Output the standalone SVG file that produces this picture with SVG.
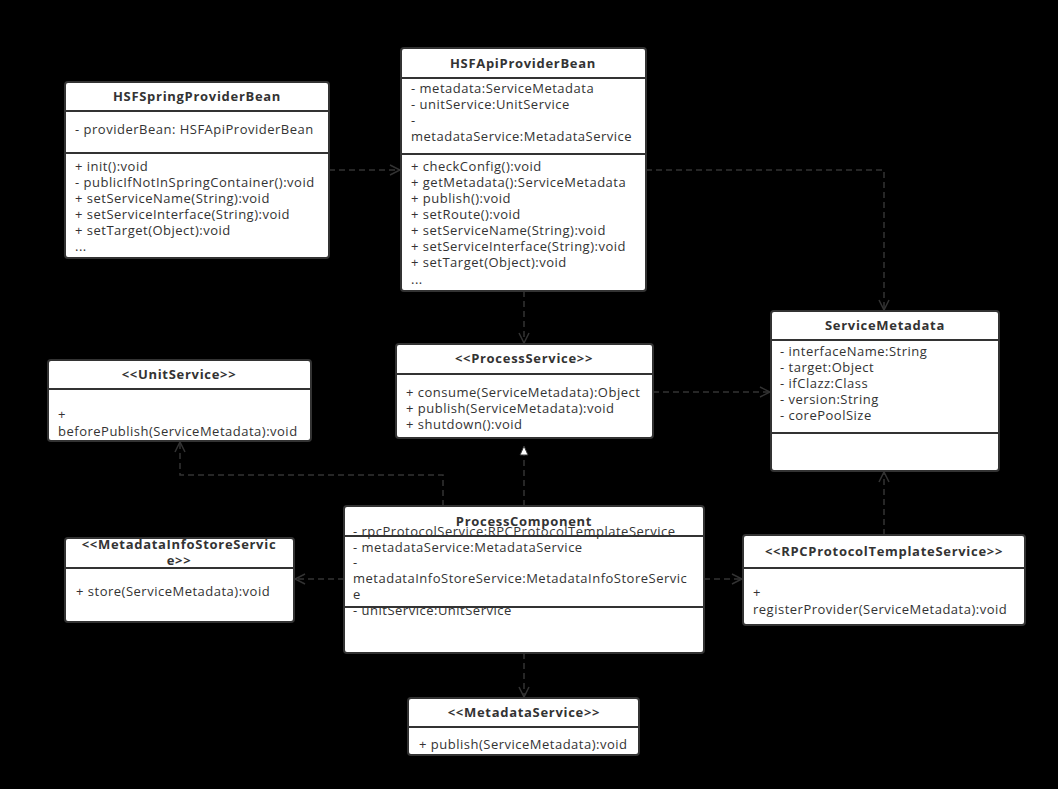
<svg xmlns="http://www.w3.org/2000/svg" width="1058" height="789" viewBox="0 0 1058 789">
<style>
.box{fill:#fff;stroke:#333;stroke-width:2}
.sep{stroke:#333;stroke-width:2}
.t{font-family:"Open Sans","Noto Sans","DejaVu Sans",sans-serif;font-size:13px;fill:#333;letter-spacing:0.5px}
.b{font-weight:bold;text-anchor:middle;letter-spacing:0.7px}
.c{fill:none;stroke:#333;stroke-width:1.5;stroke-dasharray:6 4}
</style>
<defs>
<marker id="open" viewBox="0 0 12 12" refX="11" refY="6" markerWidth="12" markerHeight="12" markerUnits="userSpaceOnUse" orient="auto">
<path d="M1,1 L11,6 L1,11" fill="none" stroke="#333" stroke-width="1.5"/>
</marker>
</defs>
<rect x="0" y="0" width="1058" height="789" fill="#000"/>

<g id="connectors">
<path class="c" d="M329,170 H400" marker-end="url(#open)"/>
<path class="c" d="M646,170 H884 V310" marker-end="url(#open)"/>
<path class="c" d="M524,291 V343" marker-end="url(#open)"/>
<path class="c" d="M653,392 H770" marker-end="url(#open)"/>
<path class="c" d="M443,506 V475 H180 V442" marker-end="url(#open)"/>
<path class="c" d="M524,506 V455"/>
<path d="M524,446 L528,455 L520,455 Z" fill="#fff" stroke="#333" stroke-width="1"/>
<path class="c" d="M344,579 H295" marker-end="url(#open)"/>
<path class="c" d="M704,579 H742" marker-end="url(#open)"/>
<path class="c" d="M524,653 V697" marker-end="url(#open)"/>
<path class="c" d="M884,535 V472" marker-end="url(#open)"/>
</g>

<g id="HSFSpringProviderBean">
<rect class="box" x="65" y="82" width="264" height="176" rx="3"/>
<line class="sep" x1="65" y1="111" x2="329" y2="111"/>
<line class="sep" x1="65" y1="153" x2="329" y2="153"/>
<text class="t b" x="197" y="101">HSFSpringProviderBean</text>
<text class="t" x="75" y="134">- providerBean: HSFApiProviderBean</text>
<text class="t" x="75" y="171">+ init():void</text>
<text class="t" x="75" y="187">- publicIfNotInSpringContainer():void</text>
<text class="t" x="75" y="203">+ setServiceName(String):void</text>
<text class="t" x="75" y="219">+ setServiceInterface(String):void</text>
<text class="t" x="75" y="235">+ setTarget(Object):void</text>
<text class="t" x="75" y="251">...</text>
</g>

<g id="HSFApiProviderBean">
<rect class="box" x="401" y="48" width="245" height="243" rx="3"/>
<line class="sep" x1="401" y1="78" x2="646" y2="78"/>
<line class="sep" x1="401" y1="154" x2="646" y2="154"/>
<text class="t b" x="523" y="68">HSFApiProviderBean</text>
<text class="t" x="411" y="93">- metadata:ServiceMetadata</text>
<text class="t" x="411" y="109">- unitService:UnitService</text>
<text class="t" x="411" y="125">-</text>
<text class="t" x="411" y="141">metadataService:MetadataService</text>
<text class="t" x="411" y="171">+ checkConfig():void</text>
<text class="t" x="411" y="187">+ getMetadata():ServiceMetadata</text>
<text class="t" x="411" y="203">+ publish():void</text>
<text class="t" x="411" y="219">+ setRoute():void</text>
<text class="t" x="411" y="235">+ setServiceName(String):void</text>
<text class="t" x="411" y="251">+ setServiceInterface(String):void</text>
<text class="t" x="411" y="267">+ setTarget(Object):void</text>
<text class="t" x="411" y="284">...</text>
</g>

<g id="ServiceMetadata">
<rect class="box" x="771" y="311" width="228" height="160" rx="3"/>
<line class="sep" x1="771" y1="340" x2="999" y2="340"/>
<line class="sep" x1="771" y1="433" x2="999" y2="433"/>
<text class="t b" x="885" y="330">ServiceMetadata</text>
<text class="t" x="780" y="356">- interfaceName:String</text>
<text class="t" x="780" y="372">- target:Object</text>
<text class="t" x="780" y="388">- ifClazz:Class</text>
<text class="t" x="780" y="404">- version:String</text>
<text class="t" x="780" y="420">- corePoolSize</text>
</g>

<g id="UnitService">
<rect class="box" x="48" y="360" width="263" height="81" rx="3"/>
<line class="sep" x1="48" y1="389" x2="311" y2="389"/>
<text class="t b" x="179" y="379">&lt;&lt;UnitService&gt;&gt;</text>
<text class="t" x="58" y="419">+</text>
<text class="t" x="58" y="436">beforePublish(ServiceMetadata):void</text>
</g>

<g id="ProcessService">
<rect class="box" x="396" y="344" width="257" height="94" rx="3"/>
<line class="sep" x1="396" y1="374" x2="653" y2="374"/>
<text class="t b" x="524" y="363">&lt;&lt;ProcessService&gt;&gt;</text>
<text class="t" x="406" y="397">+ consume(ServiceMetadata):Object</text>
<text class="t" x="406" y="413">+ publish(ServiceMetadata):void</text>
<text class="t" x="406" y="429">+ shutdown():void</text>
</g>

<g id="ProcessComponent">
<rect class="box" x="344" y="506" width="360" height="147" rx="3"/>
<text class="t b" x="524" y="526">ProcessComponent</text>
<text class="t" x="353" y="536">- rpcProtocolService:RPCProtocolTemplateService</text>
<line class="sep" x1="344" y1="536" x2="704" y2="536"/>
<text class="t" x="353" y="552">- metadataService:MetadataService</text>
<text class="t" x="353" y="567">-</text>
<text class="t" x="353" y="583">metadataInfoStoreService:MetadataInfoStoreServic</text>
<text class="t" x="353" y="599">e</text>
<text class="t" x="353" y="615">- unitService:UnitService</text>
<line class="sep" x1="344" y1="607" x2="704" y2="607"/>
</g>

<g id="MetadataInfoStoreService">
<rect class="box" x="65" y="538" width="229" height="84" rx="3"/>
<line class="sep" x1="65" y1="568" x2="294" y2="568"/>
<text class="t b" x="179" y="549">&lt;&lt;MetadataInfoStoreServic</text>
<text class="t b" x="179" y="565">e&gt;&gt;</text>
<text class="t" x="76" y="596">+ store(ServiceMetadata):void</text>
</g>

<g id="RPCProtocolTemplateService">
<rect class="box" x="743" y="535" width="282" height="90" rx="3"/>
<line class="sep" x1="743" y1="568" x2="1025" y2="568"/>
<text class="t b" x="884" y="556">&lt;&lt;RPCProtocolTemplateService&gt;&gt;</text>
<text class="t" x="753" y="597">+</text>
<text class="t" x="753" y="614">registerProvider(ServiceMetadata):void</text>
</g>

<g id="MetadataService">
<rect class="box" x="408" y="698" width="231" height="57" rx="3"/>
<line class="sep" x1="408" y1="727" x2="639" y2="727"/>
<text class="t b" x="524" y="717">&lt;&lt;MetadataService&gt;&gt;</text>
<text class="t" x="419" y="749">+ publish(ServiceMetadata):void</text>
</g>
</svg>
